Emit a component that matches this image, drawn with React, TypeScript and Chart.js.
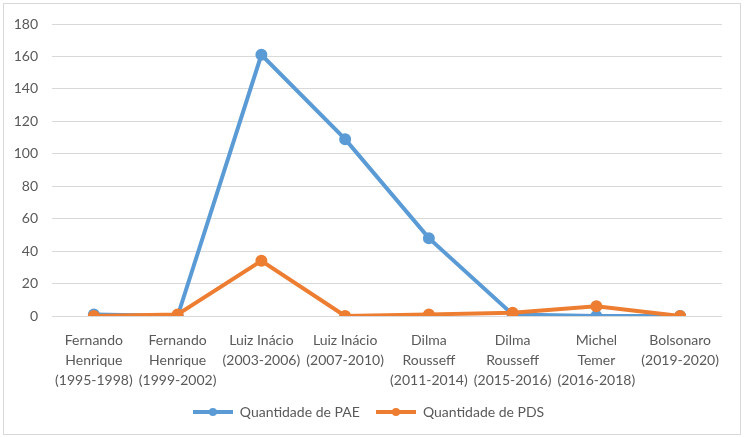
import React, { useEffect, useRef } from "react";
import { Chart, registerables } from "chart.js";

Chart.register(...registerables);

const categories: string[][] = [
  ["Fernando", "Henrique", "(1995-1998)"],
  ["Fernando", "Henrique", "(1999-2002)"],
  ["Luiz Inácio", "(2003-2006)"],
  ["Luiz Inácio", "(2007-2010)"],
  ["Dilma", "Rousseff", "(2011-2014)"],
  ["Dilma", "Rousseff", "(2015-2016)"],
  ["Michel", "Temer", "(2016-2018)"],
  ["Bolsonaro", "(2019-2020)"],
];
const paeValues = [1, 0, 161, 109, 48, 1, 0, 0];
const pdsValues = [0, 1, 34, 0, 1, 2, 6, 0];
const seriesNames = ["Quantidade de PAE", "Quantidade de PDS"];
const colors = ["#5b9bd5", "#ed7d31"];

function legendIcon(color: string): HTMLCanvasElement {
  const c = document.createElement("canvas");
  c.width = 40;
  c.height = 10;
  const ctx = c.getContext("2d")!;
  ctx.strokeStyle = color;
  ctx.lineWidth = 4;
  ctx.beginPath();
  ctx.moveTo(0, 5);
  ctx.lineTo(40, 5);
  ctx.stroke();
  ctx.fillStyle = color;
  ctx.beginPath();
  ctx.arc(20, 5, 4, 0, Math.PI * 2);
  ctx.fill();
  return c;
}

export default function App() {
  const ref = useRef<HTMLCanvasElement>(null);
  useEffect(() => {
    if (!ref.current) return;
    const font = { family: "Lato, 'Open Sans', sans-serif", size: 14, lineHeight: "20px" };
    const chart = new Chart(ref.current, {
      type: "line",
      data: {
        labels: categories,
        datasets: [
          {
            label: seriesNames[0],
            data: paeValues,
            borderColor: colors[0],
            backgroundColor: colors[0],
            borderWidth: 4,
            pointRadius: 4,
            pointHoverRadius: 4,
            tension: 0,
            order: 1,
          },
          {
            label: seriesNames[1],
            data: pdsValues,
            borderColor: colors[1],
            backgroundColor: colors[1],
            borderWidth: 4,
            pointRadius: 4,
            pointHoverRadius: 4,
            tension: 0,
            order: 0,
          },
        ],
      },
      options: {
        animation: false,
        responsive: false,
        layout: { autoPadding: false, padding: { left: 15, right: 22, top: 23, bottom: 8 } },
        scales: {
          x: {
            offset: true,
            grid: { display: false },
            border: { display: false },
            ticks: { color: "#595959", font, maxRotation: 0, autoSkip: false, padding: 6 },
            afterFit: (s: any) => {
              s.paddingLeft = 0;
              s.paddingRight = 0;
            },
          },
          y: {
            min: 0,
            max: 180,
            ticks: { stepSize: 20, color: "#595959", font, padding: 14 },
            grid: { color: "#d9d9d9", drawTicks: false },
            border: { display: false },
            afterFit: (s: any) => {
              s.width = 37;
            },
          },
        },
        plugins: {
          tooltip: { enabled: false },
          legend: {
            position: "bottom",
            labels: {
              color: "#595959",
              font,
              usePointStyle: true,
              pointStyleWidth: 40,
              padding: 9,
              generateLabels: (ch: any) =>
                ch.data.datasets.map((ds: any, i: number) => ({
                  text: i === 0 ? ds.label + "  " : ds.label,
                  fillStyle: ds.borderColor,
                  strokeStyle: ds.borderColor,
                  fontColor: "#595959",
                  pointStyle: legendIcon(ds.borderColor),
                  datasetIndex: i,
                  hidden: false,
                  lineWidth: 0,
                })),
            },
          },
        },
      },
    });
    return () => chart.destroy();
  }, []);
  return (
    <div style={{ position: "fixed", left: 0, top: 0, width: 744, height: 437, background: "#fff" }}>
      <div style={{ position: "absolute", left: 3, top: 3, width: 736, height: 430, border: "1px solid #d9d9d9" }} />
      <canvas ref={ref} width={744} height={437} style={{ position: "absolute", left: 0, top: 0 }} />
    </div>
  );
}
